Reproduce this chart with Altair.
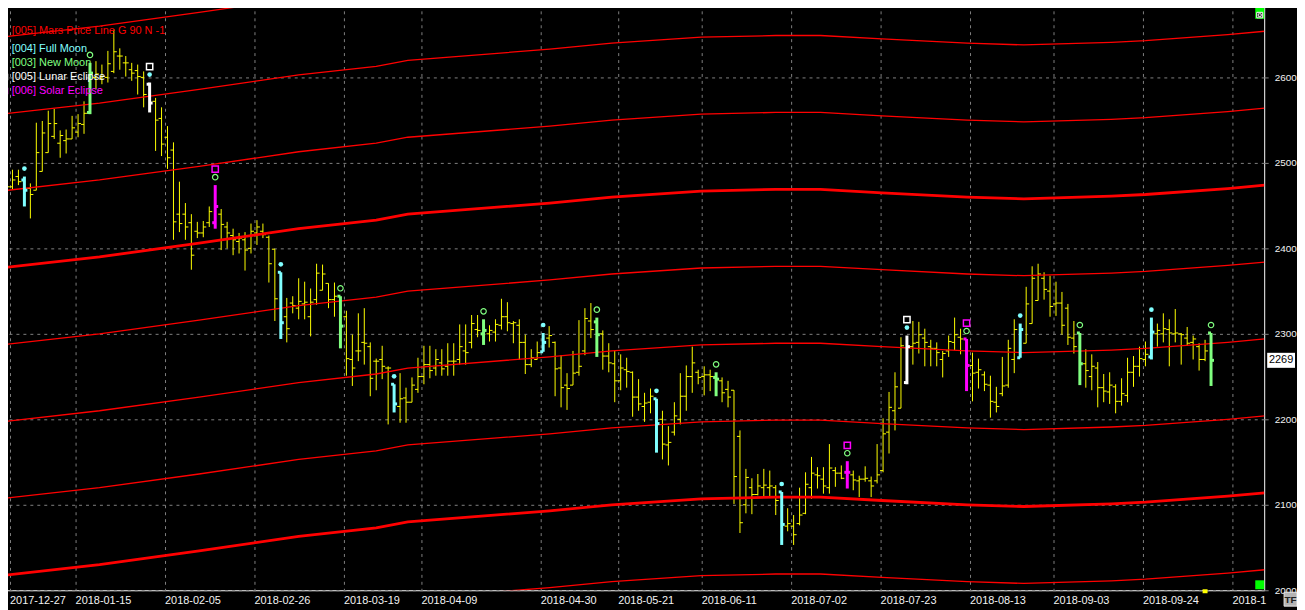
import altair as alt
import pandas as pd

FONT = "Liberation Sans"

# ---------------- OHLC data (one bar per trading day, index 0..203) ----------------
HIGH = [2482, 2477, 2492, 2492, 2484, 2476, 2547, 2549, 2561, 2563,
        2538, 2539, 2555, 2557, 2572, 2617, 2619, 2615, 2631, 2656,
        2634, 2625, 2617, 2615, 2607, 2594, 2576, 2565, 2543, 2524,
        2478, 2453, 2440, 2431, 2432, 2449, 2474, 2446, 2431, 2423,
        2418, 2419, 2429, 2433, 2429, 2415, 2399, 2372, 2342, 2344,
        2365, 2361, 2353, 2382, 2381, 2359, 2360, 2344, 2327, 2299,
        2324, 2330, 2290, 2271, 2286, 2262, 2241, 2254, 2237, 2249,
        2272, 2286, 2286, 2282, 2282, 2289, 2289, 2311, 2311, 2322,
        2322, 2317, 2310, 2317, 2341, 2337, 2315, 2317, 2299, 2282,
        2291, 2301, 2309, 2291, 2275, 2254, 2280, 2316, 2330, 2336,
        2319, 2304, 2289, 2280, 2276, 2272, 2256, 2247, 2231, 2236,
        2224, 2210, 2192, 2220, 2254, 2263, 2285, 2258, 2262, 2258,
        2255, 2249, 2245, 2234, 2187, 2142, 2131, 2136, 2142, 2140,
        2123, 2115, 2096, 2088, 2120, 2138, 2156, 2144, 2144, 2171,
        2144, 2146, 2151, 2140, 2134, 2145, 2133, 2171, 2201, 2232,
        2255, 2296, 2298, 2315, 2314, 2306, 2293, 2290, 2280, 2298,
        2319, 2306, 2294, 2278, 2271, 2256, 2251, 2238, 2273, 2293,
        2317, 2312, 2355, 2379, 2382, 2372, 2368, 2361, 2349, 2335,
        2315, 2301, 2282, 2276, 2267, 2253, 2255, 2241, 2248, 2272,
        2274, 2285, 2291, 2319, 2312, 2324, 2317, 2329, 2301, 2308,
        2298, 2289, 2293, 2301]
LOW = [2462, 2466, 2469, 2474, 2449, 2435, 2468, 2490, 2512, 2528,
       2506, 2511, 2528, 2530, 2534, 2557, 2586, 2592, 2594, 2605,
       2609, 2601, 2596, 2580, 2565, 2559, 2514, 2508, 2493, 2410,
       2419, 2410, 2375, 2412, 2413, 2425, 2423, 2398, 2400, 2392,
       2394, 2374, 2394, 2404, 2412, 2360, 2315, 2294, 2290, 2324,
       2317, 2317, 2297, 2334, 2351, 2330, 2320, 2283, 2251, 2239,
       2268, 2264, 2227, 2234, 2247, 2194, 2208, 2196, 2196, 2220,
       2231, 2241, 2248, 2251, 2251, 2251, 2251, 2264, 2264, 2283,
       2296, 2287, 2291, 2291, 2305, 2303, 2289, 2270, 2253, 2261,
       2270, 2279, 2284, 2227, 2214, 2211, 2240, 2251, 2275, 2295,
       2273, 2258, 2255, 2220, 2234, 2237, 2203, 2210, 2197, 2207,
       2161, 2153, 2146, 2181, 2194, 2210, 2231, 2241, 2228, 2233,
       2227, 2220, 2214, 2101, 2067, 2090, 2089, 2111, 2110, 2109,
       2088, 2053, 2069, 2053, 2076, 2089, 2107, 2119, 2113, 2113,
       2121, 2130, 2119, 2117, 2109, 2127, 2109, 2125, 2138, 2160,
       2187, 2213, 2241, 2264, 2277, 2262, 2262, 2262, 2249, 2273,
       2281, 2276, 2233, 2221, 2236, 2233, 2202, 2208, 2227, 2237,
       2254, 2272, 2289, 2312, 2339, 2340, 2320, 2321, 2299, 2287,
       2277, 2240, 2237, 2234, 2214, 2220, 2218, 2207, 2216, 2220,
       2238, 2250, 2262, 2270, 2285, 2290, 2262, 2290, 2264, 2286,
       2270, 2257, 2268, 2239]
OPEN = [2470, 2470, 2472, 2484, 2480, 2470, 2468, 2490, 2512, 2531,
        2523, 2526, 2528, 2536, 2545, 2559, 2600, 2598, 2600, 2607,
        2625, 2617, 2609, 2608, 2600, 2592, 2572, 2552, 2530, 2515,
        2440, 2440, 2430, 2420, 2418, 2430, 2430, 2440, 2425, 2415,
        2408, 2410, 2400, 2418, 2420, 2413, 2399, 2372, 2320, 2336,
        2330, 2335, 2320, 2340, 2351, 2359, 2340, 2344, 2320, 2270,
        2280, 2290, 2285, 2268, 2270, 2260, 2241, 2215, 2225, 2220,
        2235, 2250, 2264, 2260, 2266, 2262, 2268, 2270, 2280, 2290,
        2305, 2300, 2300, 2302, 2310, 2320, 2312, 2310, 2290, 2264,
        2270, 2279, 2295, 2290, 2260, 2240, 2240, 2255, 2280, 2315,
        2314, 2300, 2274, 2265, 2245, 2258, 2255, 2226, 2215, 2220,
        2224, 2200, 2170, 2185, 2200, 2227, 2250, 2255, 2250, 2252,
        2249, 2245, 2235, 2234, 2180, 2100, 2120, 2112, 2120, 2120,
        2120, 2115, 2075, 2075, 2078, 2090, 2120, 2135, 2130, 2120,
        2140, 2137, 2138, 2135, 2128, 2130, 2128, 2128, 2140, 2185,
        2210, 2213, 2243, 2285, 2290, 2295, 2285, 2283, 2270, 2280,
        2290, 2296, 2294, 2263, 2255, 2252, 2240, 2220, 2230, 2240,
        2270, 2272, 2289, 2312, 2339, 2365, 2350, 2335, 2336, 2330,
        2295, 2301, 2265, 2250, 2260, 2237, 2232, 2238, 2221, 2228,
        2255, 2262, 2270, 2273, 2300, 2300, 2305, 2300, 2300, 2295,
        2290, 2285, 2270, 2301]
CLOSE = [2474, 2472, 2480, 2478, 2468, 2463, 2512, 2535, 2546, 2546,
         2532, 2528, 2541, 2546, 2558, 2605, 2604, 2601, 2616, 2630,
         2625, 2617, 2605, 2601, 2580, 2570, 2550, 2522, 2506, 2431,
         2429, 2425, 2392, 2418, 2425, 2443, 2449, 2428, 2418, 2410,
         2412, 2398, 2420, 2425, 2416, 2382, 2341, 2313, 2306, 2333,
         2338, 2337, 2337, 2371, 2370, 2340, 2344, 2309, 2271, 2260,
         2280, 2289, 2248, 2268, 2262, 2260, 2218, 2224, 2220, 2240,
         2250, 2264, 2257, 2270, 2259, 2268, 2268, 2285, 2278, 2312,
         2304, 2304, 2304, 2311, 2320, 2313, 2313, 2290, 2264, 2272,
         2278, 2290, 2298, 2259, 2237, 2236, 2254, 2262, 2318, 2305,
         2299, 2274, 2266, 2245, 2260, 2256, 2226, 2218, 2219, 2227,
         2195, 2171, 2173, 2204, 2227, 2250, 2266, 2249, 2252, 2250,
         2247, 2231, 2226, 2133, 2079, 2132, 2112, 2122, 2123, 2122,
         2105, 2077, 2078, 2065, 2088, 2124, 2137, 2134, 2122, 2143,
         2137, 2131, 2138, 2129, 2130, 2131, 2122, 2135, 2183, 2214,
         2238, 2286, 2285, 2289, 2299, 2290, 2283, 2278, 2277, 2291,
         2299, 2294, 2263, 2254, 2258, 2241, 2221, 2215, 2239, 2283,
         2305, 2305, 2335, 2365, 2370, 2352, 2332, 2336, 2310, 2296,
         2285, 2265, 2257, 2262, 2237, 2233, 2240, 2221, 2230, 2255,
         2262, 2271, 2276, 2302, 2304, 2306, 2301, 2301, 2299, 2289,
         2294, 2270, 2280, 2269]

FULL_MOON = [4, 47, 66, 91, 110, 131, 171, 193]
NEW_MOON = [15, 57, 81, 100, 120, 181, 203]
LUNAR_ECLIPSE = [25, 152]
SOLAR_ECLIPSE = [36, 142, 162]

# Mars price line: base curve, repeated every 90 points
MARS_IDX = [0, 16.6, 33.3, 50, 63, 68.3, 92.1, 102.5, 117.5, 130, 137.5,
            147.8, 162.1, 171.6, 186.3, 192, 205.8, 212]
MARS_BASE = [2377, 2390, 2406, 2423, 2433, 2440, 2453, 2460, 2467, 2469,
             2469, 2465, 2460, 2458, 2461, 2463, 2470, 2474]
MARS_GAP = 90
MARS_STEPS = [-5, -4, -3, -2, -1, 0, 1, 2, 3]
MARS_THICK = [-4, 0]

TICK_POS = [1.5, 12.5, 27.5, 42.5, 57.5, 70.5, 90.5, 103.5, 117.5, 132.5,
            147.5, 162.5, 176.5, 191.5, 206.5]
TICK_LABELS = ["2017-12-27", "2018-01-15", "2018-02-05", "2018-02-26",
               "2018-03-19", "2018-04-09", "2018-04-30", "2018-05-21",
               "2018-06-11", "2018-07-02", "2018-07-23", "2018-08-13",
               "2018-09-03", "2018-09-24", "2018-1"]
Y_TICKS = [2000, 2100, 2200, 2300, 2400, 2500, 2600]

LEGEND = [
    ("[005] Mars Price Line G 90 N -1", "#FF0000"),
    ("[004] Full Moon", "#80FFFF"),
    ("[003] New Moon", "#80FF80"),
    ("[005] Lunar Eclipse", "#FFFFFF"),
    ("[006] Solar Eclipse", "#FF00FF"),
]

# ---------------- tables ----------------
n = len(HIGH)
kinds = ["bar"] * n
for i in FULL_MOON:
    kinds[i] = "full"
for i in NEW_MOON:
    kinds[i] = "new"
for i in LUNAR_ECLIPSE:
    kinds[i] = "lunar"
for i in SOLAR_ECLIPSE:
    kinds[i] = "solar"
bars = pd.DataFrame({"i": list(range(n)), "h": HIGH, "l": LOW, "o": OPEN,
                     "c": CLOSE, "kind": kinds})

rows = []
for k in MARS_STEPS:
    for x, p in zip(MARS_IDX, MARS_BASE):
        rows.append({"idx": x, "p": p + MARS_GAP * k, "k": k,
                     "thick": k in MARS_THICK})
mars = pd.DataFrame(rows)

X0 = 0.25
XS = alt.Scale(domain=[X0, X0 + 1270 / 6], nice=False, zero=False)
YS = alt.Scale(domain=[2000, 2686], nice=False, zero=False)
label_expr = " : ".join(f"datum.value == {v} ? '{t}'" for v, t in zip(TICK_POS, TICK_LABELS)) + " : ''"
XA = alt.Axis(values=TICK_POS, labelExpr=label_expr, title=None, grid=True,
              ticks=False, domain=False, labelAlign="left", labelBaseline="top",
              labelPadding=4, labelOverlap=False, labelFlush=False, orient="bottom")
YA = alt.Axis(values=Y_TICKS, orient="right", title=None, grid=True, ticks=True,
              tickSize=4, domain=False, labelPadding=6, labelOverlap=False,
              labelFlush=False, format="d", labelBaseline="middle", labelFontSize=10)


def X(f):
    return alt.X(f"{f}:Q", scale=XS, axis=XA)


def Y(f):
    return alt.Y(f"{f}:Q", scale=YS, axis=YA)


KIND_DOM = ["full", "new", "lunar", "solar"]
KIND_RNG = ["#80FFFF", "#80FF80", "#FFFFFF", "#FF00FF"]
COL = alt.Color("kind:N", scale=alt.Scale(domain=KIND_DOM, range=KIND_RNG), legend=None)

base = alt.Chart(bars)
normal = base.transform_filter("datum.kind == 'bar'")
special = base.transform_filter("datum.kind != 'bar'")

yel_rule = normal.mark_rule(color="#FFFF00", strokeWidth=1).encode(x=X("i"), y=Y("l"), y2="h")
yel_open = normal.mark_point(shape="M-1,0H0", size=36, color="#FFFF00", strokeWidth=1,
                             opacity=1).encode(x=X("i"), y=Y("o"))
yel_close = normal.mark_point(shape="M0,0H1", size=36, color="#FFFF00", strokeWidth=1,
                              opacity=1).encode(x=X("i"), y=Y("c"))

sp_rule = special.mark_rule(strokeWidth=3).encode(x=X("i"), y=Y("l"), y2="h", color=COL)
sp_open = special.mark_point(shape="M-1,0H0", size=36, strokeWidth=3, opacity=1).encode(
    x=X("i"), y=Y("o"), color=COL)
sp_close = special.mark_point(shape="M0,0H1", size=36, strokeWidth=3, opacity=1).encode(
    x=X("i"), y=Y("c"), color=COL)

mars_thin = alt.Chart(mars).transform_filter("!datum.thick").mark_line(
    clip=True, color="#FF0000", strokeWidth=1.3).encode(x=X("idx"), y=Y("p"), detail="k:N")
mars_thick = alt.Chart(mars).transform_filter("datum.thick").mark_line(
    clip=True, color="#FF0000", strokeWidth=2.8).encode(x=X("idx"), y=Y("p"), detail="k:N")

full_dot = base.transform_filter("datum.kind == 'full' || datum.kind == 'lunar'").mark_point(
    shape="circle", filled=True, size=22, color="#80FFFF", opacity=1, yOffset=-8).encode(
    x=X("i"), y=Y("h"))
new_circle = base.transform_filter("datum.kind == 'new' || datum.kind == 'solar'").mark_point(
    shape="circle", filled=False, size=30, color="#80FF80", strokeWidth=1.2, opacity=1,
    yOffset=-8).encode(x=X("i"), y=Y("h"))
lunar_sq = base.transform_filter("datum.kind == 'lunar'").mark_point(
    shape="square", filled=False, size=40, color="#FFFFFF", strokeWidth=1.5, opacity=1,
    yOffset=-16).encode(x=X("i"), y=Y("h"))
solar_sq = base.transform_filter("datum.kind == 'solar'").mark_point(
    shape="square", filled=False, size=40, color="#FF00FF", strokeWidth=1.5, opacity=1,
    yOffset=-16).encode(x=X("i"), y=Y("h"))

# legend (top-left)
one = pd.DataFrame({"z": [0]})
legend_layers = []
for j, (txt, col) in enumerate(LEGEND):
    yy = 27.3 + (0 if j == 0 else 4 + 14.1 * j)
    legend_layers.append(
        alt.Chart(one).mark_text(align="left", baseline="middle", font=FONT, fontSize=11,
                                 color=col, text=txt).encode(x=alt.value(9.7), y=alt.value(yy)))
legend_layers.append(alt.Chart(one).mark_point(shape="circle", filled=True, size=12,
                     color="#80FFFF", opacity=1).encode(x=alt.value(2.7), y=alt.value(45.3)))
legend_layers.append(alt.Chart(one).mark_point(shape="circle", filled=False, size=18,
                     color="#80FF80", opacity=1).encode(x=alt.value(2.7), y=alt.value(59.4)))
legend_layers.append(alt.Chart(one).mark_point(shape="square", filled=False, size=20,
                     color="#FFFFFF", opacity=1).encode(x=alt.value(3), y=alt.value(73.5)))
legend_layers.append(alt.Chart(one).mark_point(shape="square", filled=False, size=20,
                     color="#FF00FF", opacity=1).encode(x=alt.value(3), y=alt.value(87.6)))

# last price box
last = alt.Chart(bars.iloc[[-1]])
price_box = last.mark_point(shape="M-1,-0.54H1V0.54H-1Z", size=784, filled=True,
                            color="#FFFFFF", opacity=1).encode(x=alt.value(1287), y=Y("c"))
price_txt = last.mark_text(font=FONT, fontSize=11, color="#000000", baseline="middle").encode(
    x=alt.value(1287), y=Y("c"), text="c:Q")


# window furniture
def rect(x1, x2, y1, y2, fill, stroke=None):
    kw = {"fill": fill}
    if stroke:
        kw["stroke"] = stroke
        kw["strokeWidth"] = 1
    return alt.Chart(one).mark_rect(**kw).encode(
        x=alt.value(x1), x2=alt.value(x2), y=alt.value(y1), y2=alt.value(y2))


deco = [
    rect(1261, 1270, 0, 15, "#00FF00"),
    rect(1262.5, 1268.5, 8.5, 14, "#000000", "#FFFFFF"),
    rect(1264, 1267, 10, 12.5, "#000000", "#FFFFFF"),
    rect(1261, 1270, 580, 589, "#00FF00"),
    rect(1208, 1213, 589, 593, "#FFFF00"),
    rect(1290, 1303, 592, 606, "#B4B4B4", "#E8E8E8"),
    alt.Chart(one).mark_text(font=FONT, fontSize=10, fontWeight="bold", color="#202020",
                             text="TF", baseline="middle").encode(
        x=alt.value(1296.5), y=alt.value(599.5)),
]

chart = alt.layer(
    yel_rule, yel_open, yel_close,
    mars_thin, mars_thick,
    sp_rule, sp_open, sp_close,
    full_dot, new_circle, lunar_sq, solar_sq,
    *legend_layers, price_box, price_txt, *deco,
).properties(
    width=1270, height=590,
    padding={"left": -6, "top": -6, "right": 33, "bottom": 18},
    autosize=alt.AutoSizeParams(type="none"),
).configure(
    background="#000000",
).configure_view(
    stroke="#FFFFFF", strokeWidth=1, fill="#000000",
).configure_axis(
    gridColor="#808080", gridDash=[3, 4], gridWidth=1, labelColor="#F2F2F2",
    labelFont=FONT, labelFontSize=11, tickColor="#808080",
)

chart.save("out.html", embed_options={"renderer": "svg", "actions": False})
